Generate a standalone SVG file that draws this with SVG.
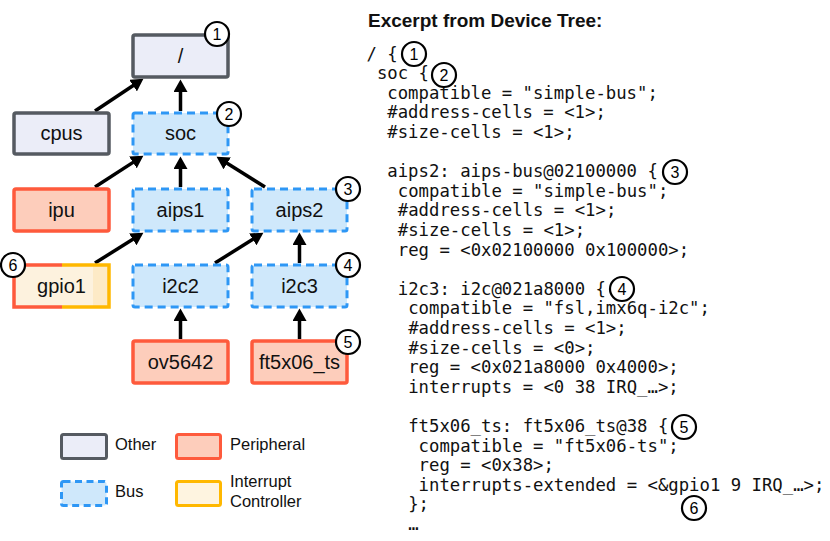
<svg xmlns="http://www.w3.org/2000/svg" width="830" height="541" viewBox="0 0 830 541">
<style>
.other{fill:#ebedf8;stroke:#555a61;stroke-width:3.5}
.bus{fill:#cfe8fb;stroke:#2e97f5;stroke-width:3;stroke-dasharray:8 5}
.per{fill:#fdcdbb;stroke:#fe5a3c;stroke-width:3.5}
.irq{fill:#fef4e0;stroke:#ffb800;stroke-width:3.5}
.lbl{font-family:"Liberation Sans",Arial,Helvetica,sans-serif;font-size:20px;fill:#111;text-anchor:middle}
.leg{font-family:"Liberation Sans",Arial,Helvetica,sans-serif;font-size:16.5px;fill:#111}
.code{font-family:"DejaVu Sans Mono","Liberation Mono",monospace;font-size:17.3px;fill:#111}
.num circle{fill:#fff;stroke:#000;stroke-width:2.2}
.num text{font-family:"Liberation Sans",Arial,Helvetica,sans-serif;font-size:16px;fill:#000;text-anchor:middle}
.conn line{stroke:#000;stroke-width:3.5}
</style>
<defs>
<marker id="ah" markerUnits="userSpaceOnUse" markerWidth="14" markerHeight="14" refX="2" refY="7" orient="auto">
<path d="M0,0 L12.5,7 L0,14 z" fill="#000"/>
</marker>
</defs>
<rect width="830" height="541" fill="#fff"/>

<g id="connectors" class="conn">
<line x1="95" y1="111" x2="134.7" y2="84.5" marker-end="url(#ah)"/>
<line x1="180.5" y1="111" x2="180.5" y2="90" marker-end="url(#ah)"/>
<line x1="95" y1="187" x2="134.6" y2="161.4" marker-end="url(#ah)"/>
<line x1="180.5" y1="187" x2="180.5" y2="167" marker-end="url(#ah)"/>
<line x1="265" y1="187" x2="225.5" y2="162.3" marker-end="url(#ah)"/>
<line x1="95" y1="263" x2="134.5" y2="238.3" marker-end="url(#ah)"/>
<line x1="215" y1="263" x2="254.5" y2="238.3" marker-end="url(#ah)"/>
<line x1="299.5" y1="263" x2="299.5" y2="243" marker-end="url(#ah)"/>
<line x1="180.5" y1="339" x2="180.5" y2="319" marker-end="url(#ah)"/>
<line x1="299.5" y1="339" x2="299.5" y2="319" marker-end="url(#ah)"/>
</g>

<g id="root"><rect class="other" x="133" y="35" width="95" height="42" rx="2"/><text class="lbl" x="180.5" y="63">/</text></g>
<g id="cpus"><rect class="other" x="14" y="113" width="95" height="41" rx="2"/><text class="lbl" x="61.5" y="140">cpus</text></g>
<g id="soc"><rect class="bus" x="133" y="113" width="95" height="41" rx="2"/><text class="lbl" x="180.5" y="140">soc</text></g>
<g id="ipu"><rect class="per" x="14" y="189" width="95" height="42" rx="2"/><text class="lbl" x="61.5" y="217">ipu</text></g>
<g id="aips1"><rect class="bus" x="133" y="189" width="95" height="42" rx="2"/><text class="lbl" x="180.5" y="217">aips1</text></g>
<g id="aips2"><rect class="bus" x="252" y="189" width="95" height="42" rx="2"/><text class="lbl" x="299.5" y="217">aips2</text></g>
<g id="gpio1">
<rect x="14" y="265" width="95" height="42" fill="#fdf2de"/>
<rect x="93" y="266" width="15" height="40" fill="#fdeac6"/>
<path d="M62,265 H14 V307 H62" fill="none" stroke="#fe5a3c" stroke-width="3.5"/>
<path d="M62,265 H109 V307 H62" fill="none" stroke="#ffb800" stroke-width="3.5"/>
<text class="lbl" x="61.5" y="293">gpio1</text>
</g>
<g id="i2c2"><rect class="bus" x="133" y="265" width="95" height="42" rx="2"/><text class="lbl" x="180.5" y="293">i2c2</text></g>
<g id="i2c3"><rect class="bus" x="252" y="265" width="95" height="42" rx="2"/><text class="lbl" x="299.5" y="293">i2c3</text></g>
<g id="ov5642"><rect class="per" x="133" y="341" width="95" height="42" rx="2"/><text class="lbl" x="180.5" y="369">ov5642</text></g>
<g id="ft5x06_ts"><rect class="per" x="252" y="341" width="95" height="42" rx="2"/><text class="lbl" x="299.5" y="369">ft5x06_ts</text></g>

<g id="badges" class="num">
<circle cx="217" cy="34" r="12"/><text x="217" y="39.8">1</text>
<circle cx="229" cy="114" r="12"/><text x="229" y="119.8">2</text>
<circle cx="348" cy="189" r="12"/><text x="348" y="194.8">3</text>
<circle cx="348" cy="265" r="12"/><text x="348" y="270.8">4</text>
<circle cx="348" cy="342" r="12"/><text x="348" y="347.8">5</text>
<circle cx="13" cy="265" r="12"/><text x="13" y="270.8">6</text>
</g>

<g id="legend">
<rect class="other" x="61.5" y="434.5" width="45" height="24" rx="2" style="stroke-width:3"/>
<text class="leg" x="115" y="450">Other</text>
<rect class="per" x="176.5" y="434.5" width="44" height="24" rx="2" style="stroke-width:3"/>
<text class="leg" x="230" y="450">Peripheral</text>
<rect class="bus" x="61.5" y="481.5" width="45" height="24" rx="2" style="stroke-dasharray:7 4.5"/>
<text class="leg" x="115" y="497">Bus</text>
<rect class="irq" x="176.5" y="481.5" width="44" height="24" rx="2" style="stroke-width:3"/>
<text class="leg" x="230" y="487">Interrupt</text>
<text class="leg" x="230" y="507">Controller</text>
</g>

<g id="code">
<text x="368" y="27" style="font-family:'Liberation Sans',Arial,Helvetica,sans-serif;font-weight:bold;font-size:19px;fill:#111">Excerpt from Device Tree:</text>
<text class="code" x="366.5" y="59.5">/ {</text>
<text class="code" x="376.9" y="79.1">soc {</text>
<text class="code" x="387.3" y="98.7">compatible = "simple-bus";</text>
<text class="code" x="387.3" y="118.3">#address-cells = &lt;1&gt;;</text>
<text class="code" x="387.3" y="137.9">#size-cells = &lt;1&gt;;</text>
<text class="code" x="387.3" y="177.1">aips2: aips-bus@02100000 {</text>
<text class="code" x="397.8" y="196.7">compatible = "simple-bus";</text>
<text class="code" x="397.8" y="216.3">#address-cells = &lt;1&gt;;</text>
<text class="code" x="397.8" y="235.9">#size-cells = &lt;1&gt;;</text>
<text class="code" x="397.8" y="255.5">reg = &lt;0x02100000 0x100000&gt;;</text>
<text class="code" x="397.8" y="294.7">i2c3: i2c@021a8000 {</text>
<text class="code" x="408.2" y="314.3">compatible = "fsl,imx6q-i2c";</text>
<text class="code" x="408.2" y="333.9">#address-cells = &lt;1&gt;;</text>
<text class="code" x="408.2" y="353.5">#size-cells = &lt;0&gt;;</text>
<text class="code" x="408.2" y="373.1">reg = &lt;0x021a8000 0x4000&gt;;</text>
<text class="code" x="408.2" y="392.7">interrupts = &lt;0 38 IRQ_…&gt;;</text>
<text class="code" x="408.2" y="431.9">ft5x06_ts: ft5x06_ts@38 {</text>
<text class="code" x="418.6" y="451.5">compatible = "ft5x06-ts";</text>
<text class="code" x="418.6" y="471.1">reg = &lt;0x38&gt;;</text>
<text class="code" x="418.6" y="490.7">interrupts-extended = &lt;&amp;gpio1 9 IRQ_…&gt;;</text>
<text class="code" x="408.2" y="510.3">};</text>
<text class="code" x="408.2" y="529.9">…</text>
</g>

<g id="code-badges" class="num">
<circle cx="414" cy="54" r="12"/><text x="414" y="59.8">1</text>
<circle cx="444" cy="75" r="12"/><text x="444" y="80.8">2</text>
<circle cx="675" cy="172" r="12"/><text x="675" y="177.8">3</text>
<circle cx="622" cy="289" r="12"/><text x="622" y="294.8">4</text>
<circle cx="684" cy="427" r="12"/><text x="684" y="432.8">5</text>
<circle cx="694" cy="508" r="12"/><text x="694" y="513.8">6</text>
</g>
</svg>
